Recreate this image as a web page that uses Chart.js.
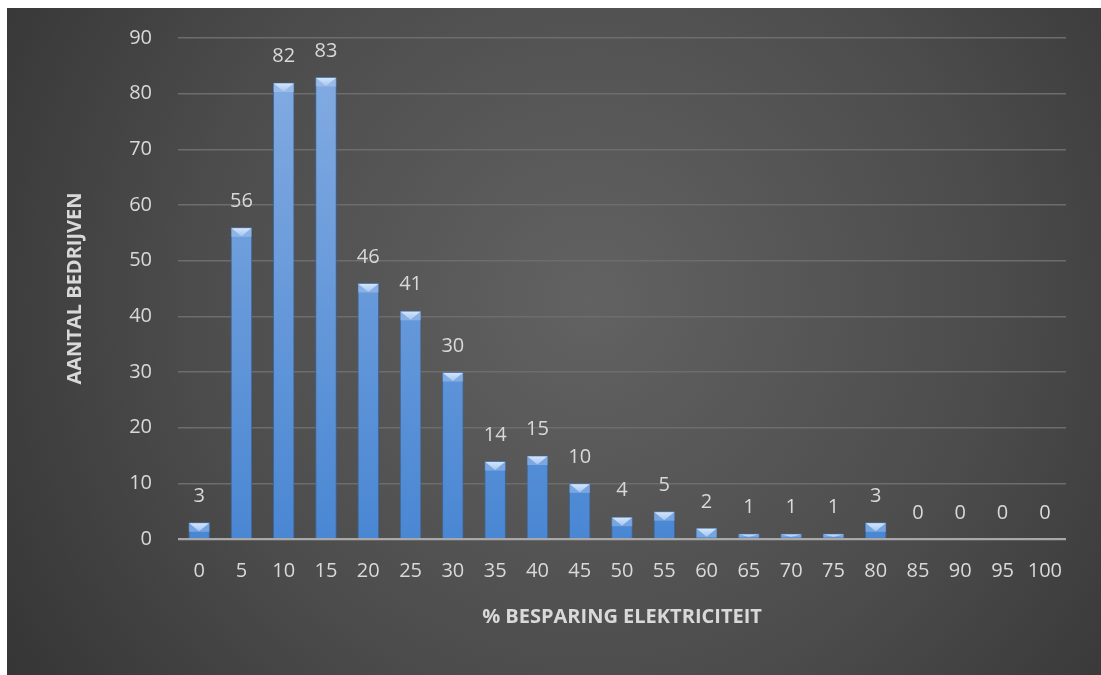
<!DOCTYPE html>
<html>
<head>
<meta charset="utf-8">
<script src="https://cdn.jsdelivr.net/npm/chart.js@4.4.1/dist/chart.umd.min.js"></script>
<style>
  html, body { margin: 0; padding: 0; background: #ffffff; }
  #wrap { position: relative; width: 1101px; height: 675px; }
  canvas { display: block; }
</style>
</head>
<body>
<div id="wrap"><canvas id="chart" width="1101" height="675"></canvas></div>
<script>
// Savings brackets (% electricity saved) and number of companies per bracket
const categories = ['0', '5', '10', '15', '20', '25', '30', '35', '40', '45', '50',
                    '55', '60', '65', '70', '75', '80', '85', '90', '95', '100'];
const companies = [3, 56, 82, 83, 46, 41, 30, 14, 15, 10, 4, 5, 2, 1, 1, 1, 3, 0, 0, 0, 0];
const yTicks = [0, 10, 20, 30, 40, 50, 60, 70, 80, 90];

const xTitle = '% BESPARING ELEKTRICITEIT';
const yTitle = 'AANTAL BEDRIJVEN';

const FONT = '"Open Sans", "DejaVu Sans", sans-serif';
const TEXT = '#d9d9d9';

// Dark radial backdrop behind the whole chart
const backdrop = {
  id: 'backdrop',
  beforeDraw(chart) {
    const ctx = chart.ctx;
    const w = chart.width, h = chart.height;
    ctx.save();
    ctx.fillStyle = '#ffffff';
    ctx.fillRect(0, 0, w, h);
    const g = ctx.createRadialGradient(590, 300, 0, 590, 300, 720);
    g.addColorStop(0, '#626262');
    g.addColorStop(0.55, '#4c4c4c');
    g.addColorStop(1, '#333333');
    ctx.fillStyle = g;
    ctx.fillRect(7, 8, w - 7, h - 8);
    ctx.restore();
  }
};

// Bevelled caps on the bars and value labels above them
const barDecor = {
  id: 'barDecor',
  afterDatasetsDraw(chart) {
    const ctx = chart.ctx;
    const meta = chart.getDatasetMeta(0);
    const values = chart.data.datasets[0].data;
    ctx.save();
    meta.data.forEach((bar, i) => {
      const p = bar.getProps(['x', 'y', 'base', 'width'], true);
      const left = p.x - p.width / 2;
      const right = p.x + p.width / 2;
      const hgt = p.base - p.y;
      if (hgt > 1) {
        const cap = Math.min(9, hgt - 1);
        // light band across the cap
        ctx.fillStyle = 'rgba(200,222,250,0.35)';
        ctx.fillRect(left + 0.5, p.y + 0.5, p.width - 1, cap);
        // downward pointing light facet
        const tg = ctx.createLinearGradient(0, p.y, 0, p.y + cap);
        tg.addColorStop(0, '#d8e8fc');
        tg.addColorStop(1, '#a6c6f0');
        ctx.fillStyle = tg;
        ctx.beginPath();
        ctx.moveTo(left + 1, p.y + 1);
        ctx.lineTo(right - 1, p.y + 1);
        ctx.lineTo(p.x, p.y + cap);
        ctx.closePath();
        ctx.fill();
      }
      ctx.fillStyle = TEXT;
      ctx.font = '20px ' + FONT;
      ctx.textAlign = 'center';
      ctx.textBaseline = 'middle';
      ctx.fillText(String(values[i]), p.x, p.y - 26);
    });
    ctx.restore();
  }
};

function barFill(context) {
  const area = context.chart.chartArea;
  if (!area) return '#5b8fd6';
  const g = context.chart.ctx.createLinearGradient(0, area.top, 0, area.bottom);
  g.addColorStop(0, '#86ade2');
  g.addColorStop(1, '#4a87d3');
  return g;
}

new Chart(document.getElementById('chart'), {
  type: 'bar',
  data: {
    labels: categories,
    datasets: [{
      data: companies,
      backgroundColor: barFill,
      borderColor: '#3b679f',
      borderWidth: 1,
      categoryPercentage: 1,
      barPercentage: 0.51
    }]
  },
  options: {
    responsive: false,
    animation: false,
    devicePixelRatio: 1,
    layout: { padding: { left: 7, top: 37, right: 35, bottom: 0 } },
    plugins: {
      legend: { display: false },
      tooltip: { enabled: false }
    },
    scales: {
      x: {
        grid: { display: false, drawTicks: false },
        border: { display: false },
        ticks: { color: TEXT, font: { family: FONT, size: 20 }, padding: 20, maxRotation: 0, autoSkip: false },
        title: {
          display: true, text: xTitle, color: TEXT,
          font: { family: FONT, size: 20, weight: 'bold' },
          padding: { top: 0, bottom: 46 }
        },
        afterFit(scale) { scale.height = 136; }
      },
      y: {
        min: 0, max: 90,
        afterBuildTicks(scale) { scale.ticks = yTicks.map(v => ({ value: v })); },
        grid: {
          drawTicks: false,
          color: ctx => ctx.tick && ctx.tick.value === 0 ? '#a8a8a8' : '#6d6d6d',
          lineWidth: ctx => ctx.tick && ctx.tick.value === 0 ? 2.2 : 1.4
        },
        border: { display: false },
        ticks: { color: TEXT, font: { family: FONT, size: 20 }, padding: 26 },
        title: {
          display: true, text: yTitle, color: TEXT,
          font: { family: FONT, size: 20, weight: 'bold' },
          padding: { top: 56, bottom: 0 }
        },
        afterFit(scale) { scale.width = 171; }
      }
    }
  },
  plugins: [backdrop, barDecor]
});
</script>
</body>
</html>
